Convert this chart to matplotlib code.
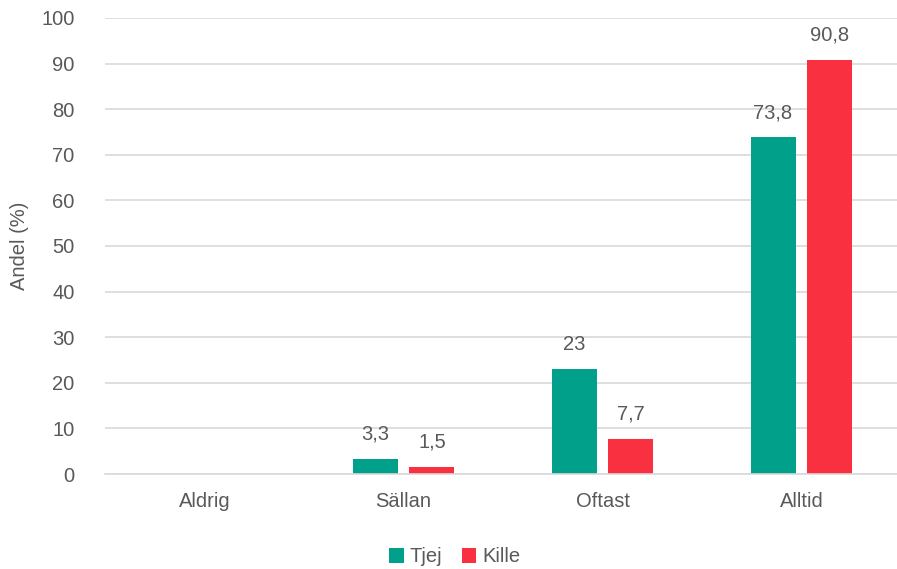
import matplotlib.pyplot as plt
import numpy as np

categories = ['Aldrig', 'Sällan', 'Oftast', 'Alltid']
tjej = [0, 3.3, 23, 73.8]
kille = [0, 1.5, 7.7, 90.8]
tjej_labels = ['', '3,3', '23', '73,8']
kille_labels = ['', '1,5', '7,7', '90,8']

teal = '#00A08A'
red = '#F8303F'
grey = '#595959'
fs = 14.5

plt.rcParams['font.family'] = ['Liberation Sans', 'DejaVu Sans']

fig = plt.figure(figsize=(8.97, 5.69), dpi=100)
ax = fig.add_axes([105/897, 1 - 474/569, 796/897, (474 - 18)/569])

x = np.arange(len(categories))
w = 0.226
off = 0.143
b1 = ax.bar(x - off, tjej, w, color=teal, label='Tjej')
b2 = ax.bar(x + off, kille, w, color=red, label='Kille')

for bars, labs in [(b1, tjej_labels), (b2, kille_labels)]:
    for rect, lab in zip(bars, labs):
        if lab:
            ax.annotate(lab, (rect.get_x() + rect.get_width()/2, rect.get_height()),
                        xytext=(0, 11), textcoords='offset points',
                        ha='center', va='bottom', fontsize=fs, color=grey)

ax.set_xlim(-0.5, 3.5)
ax.set_ylim(0, 100)
ax.set_yticks(range(0, 101, 10))
ax.set_xticks(x)
ax.set_xticklabels(categories)
ax.tick_params(axis='both', length=0, labelsize=fs, colors=grey)
ax.tick_params(axis='y', pad=22)
ax.tick_params(axis='x', pad=13)
ax.yaxis.grid(True, color='#D9D9D9', linewidth=1.2)
ax.set_axisbelow(True)
for s in ['top', 'right', 'left']:
    ax.spines[s].set_visible(False)
ax.spines['bottom'].set_color('#D9D9D9')
ax.spines['bottom'].set_linewidth(1.2)
ax.set_ylabel('Andel (%)', fontsize=fs, color=grey, labelpad=9)

fig.legend(loc='center', bbox_to_anchor=(455/897, 1 - 557/569), ncol=2, frameon=False,
           fontsize=fs, labelcolor=grey, handlelength=0.7, handleheight=0.7,
           handletextpad=0.3, columnspacing=1.0)

fig.savefig('out.png', dpi=100)
